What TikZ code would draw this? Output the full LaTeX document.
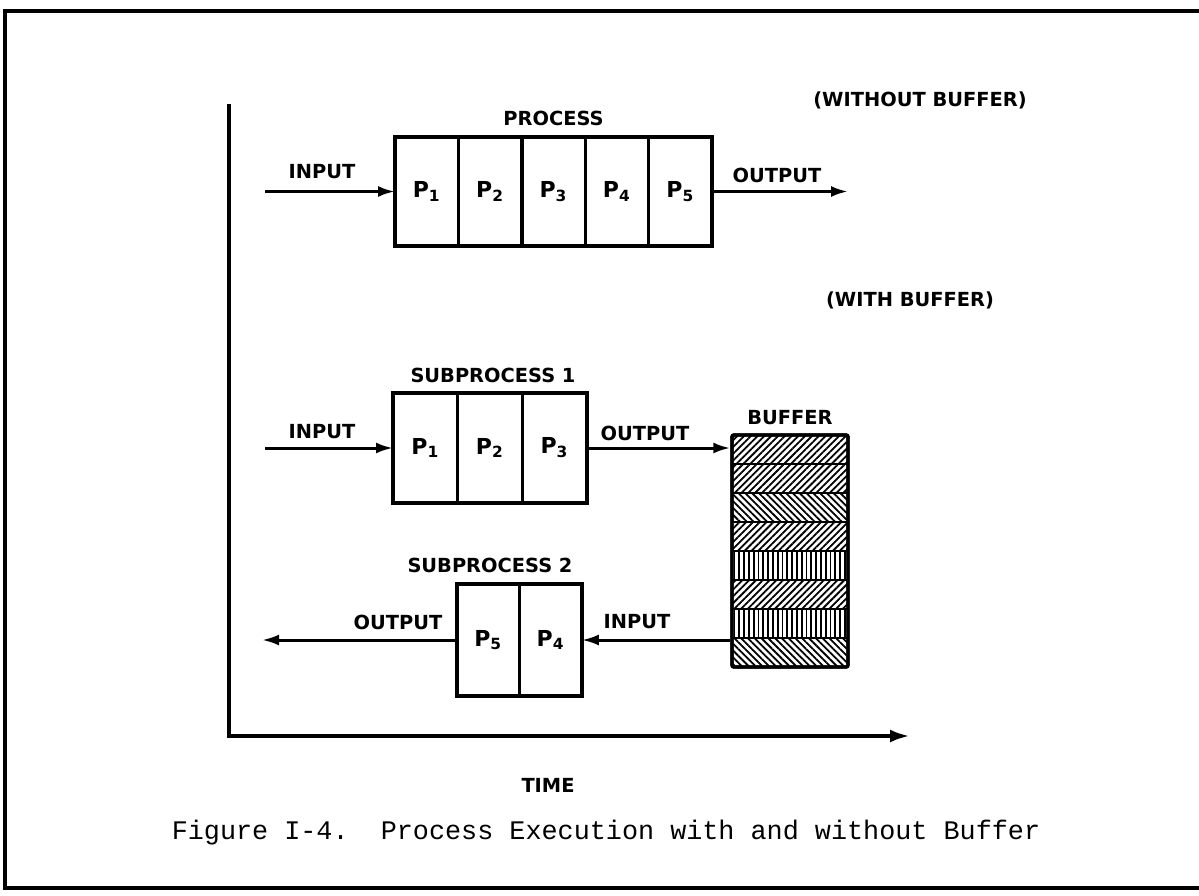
\documentclass[tikz,border=0pt]{standalone}
\usepackage{fontspec}
\newfontfamily\letterfont{DejaVu Sans}
\newfontfamily\typefont{Liberation Mono}
\usetikzlibrary{arrows.meta,patterns.meta,positioning}

\begin{document}
\begin{tikzpicture}[x=0.5pt,y=-0.5pt,
  caps/.style={font=\letterfont\bfseries\fontsize{9.7}{11}\selectfont, inner sep=0pt},
  cell/.style={draw, line width=1.7pt, inner sep=0pt, outer sep=0pt, font=\letterfont\bfseries\fontsize{11}{13}\selectfont},
  flow/.style={line width=1.5pt, -{Latex[length=8.5pt,width=5.5pt]}},
  band/.style={pattern={Lines[angle=#1,distance=2.4pt,line width=0.9pt]}}]
\useasboundingbox (0,0) rectangle (1199,895);
\draw[line width=2.4pt] (1199,11) -- (5,11) -- (5,888) -- (1199,888);

% time axes
\coordinate (ytop) at (229,104); \coordinate (orig) at (229,736); \coordinate (xend) at (910,736);
\draw[line width=2pt, -{Latex[length=10pt,width=6.5pt]}] (ytop) -- (orig) -- (xend);
\node[caps] (time) at (548,785) {TIME};

% without buffer
\node[caps] (nobuf) at (920,100) {(WITHOUT BUFFER)};
\node[cell, minimum width=31.7pt, minimum height=54.5pt] (p1) at (426.7,191.5) {P\textsubscript{1}};
\node[cell, minimum width=31.7pt, minimum height=54.5pt, right=0pt of p1] (p2) {P\textsubscript{2}};
\node[cell, minimum width=31.7pt, minimum height=54.5pt, right=0pt of p2] (p3) {P\textsubscript{3}};
\node[cell, minimum width=31.7pt, minimum height=54.5pt, right=0pt of p3] (p4) {P\textsubscript{4}};
\node[cell, minimum width=31.7pt, minimum height=54.5pt, right=0pt of p4] (p5) {P\textsubscript{5}};
\node[caps] (proc) at (553.5,118) {PROCESS};
\coordinate (in1) at (265,191.5); \coordinate (out1) at (848,191.5);
\draw[flow] (in1) -- (p1.west);
\draw[flow] (p5.east) -- (out1);
\node[caps] (in1l) at (322,172) {INPUT};
\node[caps] (out1l) at (777,175) {OUTPUT};

% with buffer
\node[caps] (wbuf) at (910,300) {(WITH BUFFER)};
\node[cell, minimum width=32.3pt, minimum height=55pt] (q1) at (425.3,448) {P\textsubscript{1}};
\node[cell, minimum width=32.3pt, minimum height=55pt, right=0pt of q1] (q2) {P\textsubscript{2}};
\node[cell, minimum width=32.3pt, minimum height=55pt, right=0pt of q2] (q3) {P\textsubscript{3}};
\node[caps] (sub1) at (493,375) {SUBPROCESS 1};

\node[draw, line width=1.7pt, rounded corners=1pt, minimum width=58pt, minimum height=116pt, inner sep=0pt] (buf) at (790,551) {};
\foreach \ang [count=\i] in {45,45,-45,45,90,45,90,-45} {
  \fill[band=\ang] (732,435+29*\i-29) rectangle (848,435+29*\i);
  \draw[line width=0.9pt] (732,435+29*\i) -- (848,435+29*\i);
}
\node[draw, line width=1.7pt, rounded corners=1pt, minimum width=58pt, minimum height=116pt, inner sep=0pt] at (buf) {};
\node[caps] (bufl) at (790,418) {BUFFER};

\coordinate (in2) at (265,448);
\draw[flow] (in2) -- (q1.west);
\draw[flow] (q3.east) -- (buf.west |- q3.east);
\node[caps] (in2l) at (322,432) {INPUT};
\node[caps] (out2l) at (645,433) {OUTPUT};

\node[cell, minimum width=31.2pt, minimum height=56pt] (r1) at (488.2,640) {P\textsubscript{5}};
\node[cell, minimum width=31.2pt, minimum height=56pt, right=0pt of r1] (r2) {P\textsubscript{4}};
\node[caps] (sub2) at (490,565) {SUBPROCESS 2};
\coordinate (out3) at (262,640);
\draw[flow] (buf.west |- r2.east) -- (r2.east);
\draw[flow] (r1.west) -- (out3);
\node[caps] (in3l) at (637,622) {INPUT};
\node[caps] (out3l) at (398,622) {OUTPUT};

\node[font=\typefont\fontsize{13.4}{16}\selectfont] (cap) at (606,833) {Figure I-4.\ \ Process Execution with and without Buffer};
\end{tikzpicture}
\end{document}
